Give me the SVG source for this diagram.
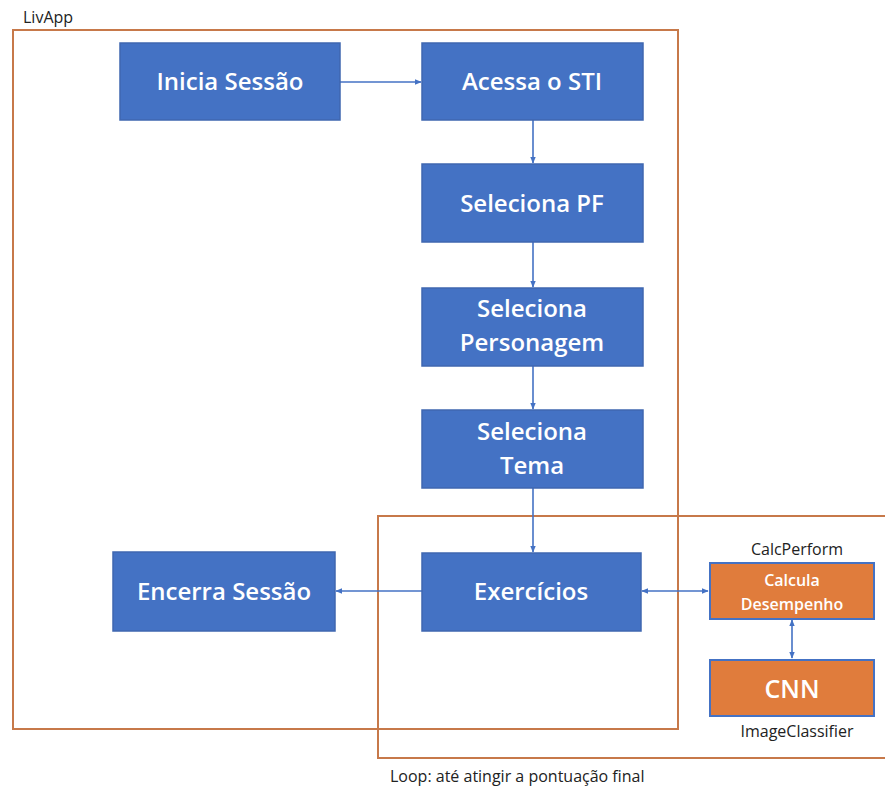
<svg xmlns="http://www.w3.org/2000/svg" width="885" height="787" viewBox="0 0 885 787">
<defs>
<style>
.frame{fill:none;stroke:#C7794A;stroke-width:2}
.b{fill:#4472C4;stroke:#3F67B0;stroke-width:1.5}
.o{fill:#E07C3C;stroke:#4472C4;stroke-width:2}
.t{font-family:"Open Sans","Liberation Sans",Arial,sans-serif;fill:#fff;text-anchor:middle;font-weight:600}
.bt{font-size:24px}
.lbl{font-family:"Open Sans","Liberation Sans",Arial,sans-serif;fill:#222;font-size:16px}
.c{stroke:#4472C4;stroke-width:1.6;fill:none}
</style>
<marker id="ah" viewBox="0 0 10 10" refX="9" refY="5" markerWidth="7" markerHeight="7" orient="auto-start-reverse" markerUnits="userSpaceOnUse">
<path d="M0,1 L10,5 L0,9 z" fill="#4472C4"/>
</marker>
</defs>
<rect width="885" height="787" fill="#fff"/>
<g id="livapp">
<rect class="frame" x="13" y="30" width="665" height="699"/>
<text class="lbl" x="23" y="23">LivApp</text>
</g>
<g id="loop">
<rect class="frame" x="378" y="516" width="520" height="242"/>
<text class="lbl" x="390" y="782">Loop: até atingir a pontuação final</text>
</g>
<g id="connectors">
<line class="c" x1="340" y1="82" x2="421" y2="82" marker-end="url(#ah)"/>
<line class="c" x1="533" y1="120" x2="533" y2="163" marker-end="url(#ah)"/>
<line class="c" x1="533" y1="242" x2="533" y2="287" marker-end="url(#ah)"/>
<line class="c" x1="533" y1="366" x2="533" y2="409" marker-end="url(#ah)"/>
<line class="c" x1="533" y1="488" x2="533" y2="552" marker-end="url(#ah)"/>
<line class="c" x1="422" y1="591" x2="336" y2="591" marker-end="url(#ah)"/>
<line class="c" x1="642" y1="591" x2="708" y2="591" marker-start="url(#ah)" marker-end="url(#ah)"/>
<line class="c" x1="792" y1="620" x2="792" y2="658" marker-start="url(#ah)" marker-end="url(#ah)"/>
</g>
<g id="inicia">
<rect class="b" x="120" y="43" width="220" height="77"/>
<text class="t bt" x="230" y="90">Inicia Sessão</text>
</g>
<g id="acessa">
<rect class="b" x="422" y="43" width="221" height="77"/>
<text class="t bt" x="532" y="90">Acessa o STI</text>
</g>
<g id="pf">
<rect class="b" x="422" y="164" width="221" height="78"/>
<text class="t bt" x="532" y="212">Seleciona PF</text>
</g>
<g id="personagem">
<rect class="b" x="422" y="288" width="221" height="78"/>
<text class="t bt" x="532" y="317">Seleciona</text>
<text class="t bt" x="532" y="351">Personagem</text>
</g>
<g id="tema">
<rect class="b" x="422" y="410" width="221" height="78"/>
<text class="t bt" x="532" y="440">Seleciona</text>
<text class="t bt" x="532" y="474">Tema</text>
</g>
<g id="exercicios">
<rect class="b" x="422" y="553" width="219" height="78"/>
<text class="t bt" x="531" y="600">Exercícios</text>
</g>
<g id="encerra">
<rect class="b" x="113" y="552" width="222" height="79"/>
<text class="t bt" x="224" y="600">Encerra Sessão</text>
</g>
<g id="calcperform">
<rect class="o" x="710" y="563" width="164" height="56"/>
<text class="t" x="792" y="586" font-size="16">Calcula</text>
<text class="t" x="792" y="610" font-size="16">Desempenho</text>
<text class="lbl" x="797" y="555" text-anchor="middle">CalcPerform</text>
</g>
<g id="cnn">
<rect class="o" x="710" y="660" width="164" height="56"/>
<text class="t" x="792" y="698" font-size="25">CNN</text>
<text class="lbl" x="797" y="737" text-anchor="middle">ImageClassifier</text>
</g>
</svg>
